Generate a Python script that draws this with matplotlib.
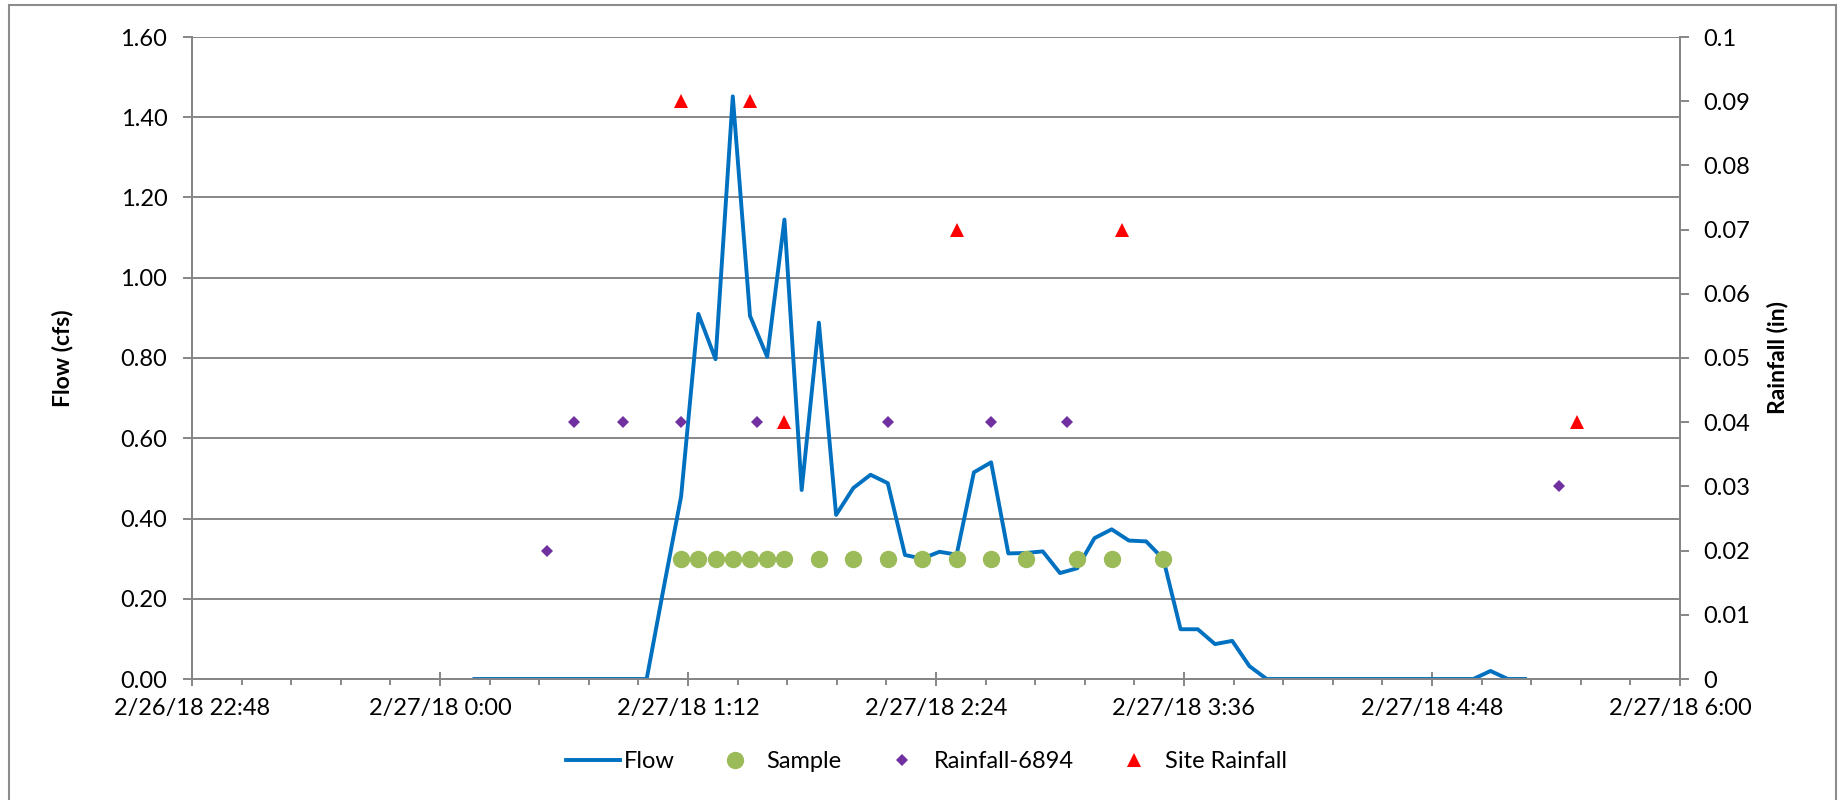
import matplotlib
matplotlib.use("Agg")
import matplotlib.pyplot as plt
import matplotlib.dates as mdates
from matplotlib.lines import Line2D
from matplotlib.patches import Rectangle
from matplotlib.ticker import FixedLocator, FuncFormatter
import pandas as pd

# ---------------- data ----------------
flow_start = "2018-02-27 00:10"   # flow logged every 5 minutes
flow_cfs = [0, 0, 0, 0, 0, 0, 0, 0, 0, 0, 0,
            0.23, 0.455, 0.91, 0.797, 1.452, 0.905, 0.803, 1.145, 0.471, 0.888, 0.409,
            0.476, 0.509, 0.488, 0.309, 0.30, 0.317, 0.31, 0.515, 0.54, 0.313, 0.314, 0.318,
            0.264, 0.276, 0.351, 0.373, 0.345, 0.343, 0.299, 0.124, 0.124, 0.087, 0.095, 0.032,
            0, 0, 0, 0, 0, 0, 0, 0, 0, 0, 0, 0, 0,
            0.02, 0, 0]

sample_times = ["01:10", "01:15", "01:20", "01:25", "01:30", "01:35", "01:40", "01:50",
                "02:00", "02:10", "02:20", "02:30", "02:40", "02:50", "03:05", "03:15", "03:30"]
sample_cfs = [0.30] * len(sample_times)

rain6894_times = ["00:31", "00:39", "00:53", "01:10", "01:32", "02:10", "02:40", "03:02", "05:25"]
rain6894_in = [0.02, 0.04, 0.04, 0.04, 0.04, 0.04, 0.04, 0.04, 0.03]

site_rain_times = ["01:10", "01:30", "01:40", "02:30", "03:18", "05:30"]
site_rain_in = [0.09, 0.09, 0.04, 0.07, 0.07, 0.04]

day = "2018-02-27 "
x_start = "2018-02-26 22:48"
x_end = "2018-02-27 06:00"

# ---------------- figure ----------------
FONT = ["Lato", "DejaVu Sans"]
plt.rcParams["font.family"] = FONT
FS = 17
W, H = 1841, 800
fig = plt.figure(figsize=(W / 100, H / 100), dpi=100)
ax = fig.add_axes([192 / W, 1 - 679 / H, (1680 - 192) / W, (679 - 37) / H])
ax2 = ax.twinx()

grey = "#868686"
flow_t = pd.date_range(flow_start, periods=len(flow_cfs), freq="5min")
samp_t = pd.to_datetime([day + t for t in sample_times])
r1_t = pd.to_datetime([day + t for t in rain6894_times])
r2_t = pd.to_datetime([day + t for t in site_rain_times])

ax.plot(flow_t, flow_cfs, color="#0070C0", lw=2.8, solid_joinstyle="round", zorder=3)
ax.plot(samp_t, sample_cfs, ls="none", marker="o", ms=12.5, color="#9BBB59",
        markeredgewidth=0, zorder=4)
ax2.plot(r1_t, rain6894_in, ls="none", marker="D", ms=6.4, color="#7030A0", markeredgewidth=0)
ax2.plot(r2_t, site_rain_in, ls="none", marker="^", ms=9.5, color="#FF0000", markeredgewidth=0)

t0, t1 = pd.Timestamp(x_start), pd.Timestamp(x_end)
ax.set_xlim(t0, t1)
ax.set_ylim(0, 1.6)
ax2.set_ylim(0, 0.1)

major = pd.date_range(t0, t1, freq="72min")
minor = pd.date_range(t0, t1, freq="864s")
ax.xaxis.set_major_locator(FixedLocator(mdates.date2num(major)))
ax.xaxis.set_minor_locator(FixedLocator(mdates.date2num(minor)))


def fmt_date(v, pos=None):
    d = mdates.num2date(v)
    return f"{d.month}/{d.day}/{d.strftime('%y')} {d.hour}:{d.minute:02d}"


ax.xaxis.set_major_formatter(FuncFormatter(fmt_date))
ax.set_yticks([i * 0.2 for i in range(9)])
ax.yaxis.set_major_formatter(FuncFormatter(lambda v, p: f"{v:.2f}"))
ax2.set_yticks([i * 0.01 for i in range(11)])
ax2.yaxis.set_major_formatter(FuncFormatter(lambda v, p: "0" if abs(v) < 1e-9 else f"{v:.2f}".rstrip("0")))

ax.grid(axis="y", color=grey, lw=1.4)
ax.set_axisbelow(True)

for a in (ax, ax2):
    for s in a.spines.values():
        s.set_color(grey)
        s.set_linewidth(1.4)
    a.spines["top"].set_visible(False)

ax.tick_params(axis="y", direction="out", length=6.8, width=1.4, color=grey,
               labelsize=FS, pad=11, labelcolor="black")
ax2.tick_params(axis="y", direction="out", length=6.8, width=1.4, color=grey,
                labelsize=FS, pad=10, labelcolor="black")
ax.tick_params(axis="x", which="major", direction="inout", length=9.6, width=1.4,
               color=grey, labelsize=FS, pad=9, labelcolor="black")
ax.tick_params(axis="x", which="minor", direction="out", length=4.2, width=1.4, color=grey)

ax.set_ylabel("Flow (cfs)", fontsize=16.5, fontweight="bold")
ax.yaxis.set_label_coords((73 - 192) / (1680 - 192), 0.5)
ax2.set_ylabel("Rainfall (in)", fontsize=16.5, fontweight="bold")
ax2.yaxis.set_label_coords((1767 - 192) / (1680 - 192), 0.5)

handles = [
    Line2D([], [], color="#0070C0", lw=2.8),
    Line2D([], [], ls="none", marker="o", ms=12.5, color="#9BBB59", markeredgewidth=0),
    Line2D([], [], ls="none", marker="D", ms=6.4, color="#7030A0", markeredgewidth=0),
    Line2D([], [], ls="none", marker="^", ms=9.5, color="#FF0000", markeredgewidth=0),
]
labels = ["Flow", "Sample", "Rainfall-6894", "Site Rainfall"]
fig.legend(handles, labels, loc="center", bbox_to_anchor=(926.5 / W, 1 - 762 / H),
           ncol=4, frameon=False, fontsize=FS, handlelength=2.3, handletextpad=0.17,
           columnspacing=1.42, borderaxespad=0)

fig.patches.append(Rectangle((9 / W, -0.05), (1836 - 9) / W, 1.05 - 5 / H,
                             transform=fig.transFigure, fill=False,
                             edgecolor="#8c8c8c", lw=1.5))

fig.savefig("out.png", dpi=100, facecolor="white")
